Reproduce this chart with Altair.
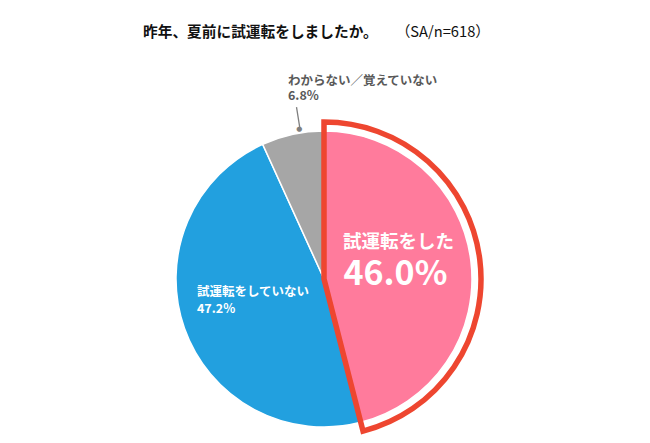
import altair as alt
import pandas as pd

categories = ["試運転をした", "試運転をしていない", "わからない／覚えていない"]
values = [46.0, 47.2, 6.8]
pct_labels = ["46.0%", "47.2%", "6.8%"]
order = [0, 1, 2]
colors = ["#FF7B9C", "#22A0DF", "#A6A6A6"]

FONT = "Noto Sans CJK JP"

df = pd.DataFrame({"cat": categories, "value": values, "pct": pct_labels, "order": order})

base = alt.Chart(df).transform_window(
    end="sum(value)", sort=[alt.SortField("order")], frame=[None, 0]
).transform_calculate(
    start="datum.end - datum.value", mid="datum.end - datum.value / 2"
)

tscale = alt.Scale(domain=[0, 100])
color = alt.Color("cat:N", scale=alt.Scale(domain=categories, range=colors), legend=None)

slices = base.mark_arc(outerRadius=148, stroke="white", strokeWidth=1.5).encode(
    theta=alt.Theta("start:Q", scale=tscale), theta2=alt.Theta2("end:Q"), color=color
)

outline = base.transform_filter(alt.datum.order == 0).mark_arc(
    outerRadius=157, innerRadius=0, fillOpacity=0, stroke="#EE4630", strokeWidth=5.5,
    strokeJoin="miter"
).encode(theta=alt.Theta("start:Q", scale=tscale), theta2=alt.Theta2("end:Q"))

def label(idx, field, radius, dx, dy, size, col, align="center"):
    return base.transform_filter(alt.datum.order == idx).mark_text(
        radius=radius, dx=dx, dy=dy, fontSize=size, fontWeight="bold", color=col,
        font=FONT, align=align, baseline="middle"
    ).encode(theta=alt.Theta("mid:Q", scale=tscale), text=alt.Text(f"{field}:N"))

pink_name = label(0, "cat", 72, 3, -28, 18.5, "white")
pink_pct = label(0, "pct", 72, 0, 5, 34, "white")
blue_name = label(1, "cat", 75, -56.3, -11.5, 12.5, "white", "left")
blue_pct = label(1, "pct", 75, -56.3, 5, 12.5, "white", "left")
gray_name = label(2, "cat", 200, 6.4, -3, 12.5, "#595959", "left")
gray_pct = label(2, "pct", 200, 6.4, 12.5, 12.5, "#595959", "left")

leader = base.transform_filter(alt.datum.order == 2).mark_arc(
    outerRadius=174, innerRadius=151, fillOpacity=0, stroke="#7F7F7F", strokeWidth=1.3,
    thetaOffset=0.055, theta2Offset=0.055
).encode(theta=alt.Theta("mid:Q", scale=tscale), theta2=alt.Theta2("mid:Q"))

dot = base.transform_filter(alt.datum.order == 2).mark_text(
    radius=152, dx=7.5, dy=-1.5, fontSize=7, color="#7F7F7F", font="DejaVu Sans",
    baseline="middle"
).encode(theta=alt.Theta("mid:Q", scale=tscale), text=alt.value("●"))

chart = alt.layer(
    slices, outline, leader, dot, pink_name, pink_pct, blue_name, blue_pct, gray_name, gray_pct
).properties(
    width=632, height=312,
    autosize=alt.AutoSizeParams(type="none"),
    padding={"left": 0, "right": 0, "top": 115, "bottom": 0},
    title=alt.Title(
        text="昨年、夏前に試運転をしましたか。",
        subtitle="\u200b" + "\u3000" * 17 + "\u2009（SA/n=618）",
        anchor="start", frame="group", dx=135, offset=35,
        font=FONT, fontSize=14.7, fontWeight="bold", color="#111111",
        subtitleFont=FONT, subtitleFontSize=14.7, subtitleFontWeight="normal",
        subtitleColor="#111111", subtitlePadding=-14.7,
    ),
).configure_view(stroke=None)

chart.save("out.html", embed_options={"renderer": "svg", "actions": False})
